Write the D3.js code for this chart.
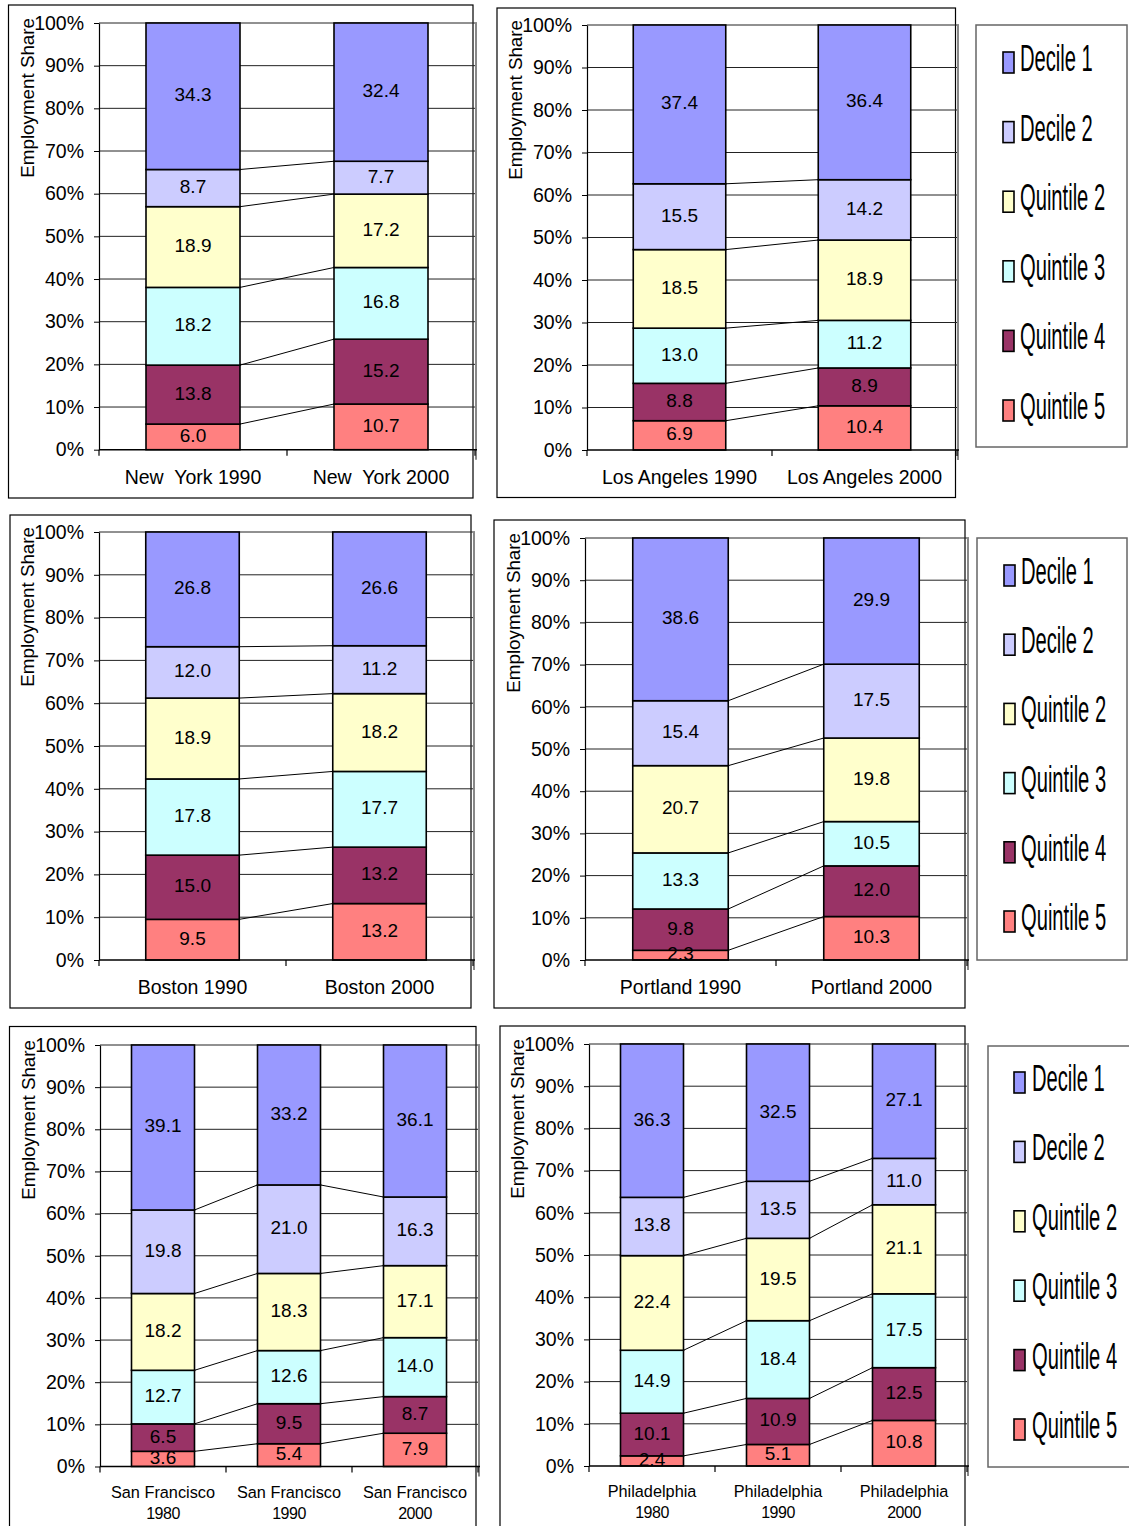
<!DOCTYPE html>
<html><head><meta charset="utf-8">
<script src="https://cdn.jsdelivr.net/npm/d3@7"></script>
<style>
body{margin:0;background:#fff}
svg{display:block}
text{font-family:"Liberation Sans",Arial,sans-serif;fill:#000}
</style>
</head><body>
<svg id="c" width="1129" height="1526"></svg>
<script>
// ---------- data ----------
const seriesNames = ["Quintile 5","Quintile 4","Quintile 3","Quintile 2","Decile 2","Decile 1"];
const seriesColors = ["#FF8080","#993366","#CCFFFF","#FFFFCC","#CCCCFF","#9999FF"];
const legendNames = ["Decile 1","Decile 2","Quintile 2","Quintile 3","Quintile 4","Quintile 5"];
const yTickValues = [0,0.1,0.2,0.3,0.4,0.5,0.6,0.7,0.8,0.9,1.0];
const yTitle = "Employment Share";

const nyCategories = ["New  York 1990","New  York 2000"];
const nyValues = [[6.0,13.8,18.2,18.9,8.7,34.3],[10.7,15.2,16.8,17.2,7.7,32.4]];
const laCategories = ["Los Angeles 1990","Los Angeles 2000"];
const laValues = [[6.9,8.8,13.0,18.5,15.5,37.4],[10.4,8.9,11.2,18.9,14.2,36.4]];
const bostonCategories = ["Boston 1990","Boston 2000"];
const bostonValues = [[9.5,15.0,17.8,18.9,12.0,26.8],[13.2,13.2,17.7,18.2,11.2,26.6]];
const portlandCategories = ["Portland 1990","Portland 2000"];
const portlandValues = [[2.3,9.8,13.3,20.7,15.4,38.6],[10.3,12.0,10.5,19.8,17.5,29.9]];
const sfCategories = ["San Francisco|1980","San Francisco|1990","San Francisco|2000"];
const sfValues = [[3.6,6.5,12.7,18.2,19.8,39.1],[5.4,9.5,12.6,18.3,21.0,33.2],[7.9,8.7,14.0,17.1,16.3,36.1]];
const phCategories = ["Philadelphia|1980","Philadelphia|1990","Philadelphia|2000"];
const phValues = [[2.4,10.1,14.9,22.4,13.8,36.3],[5.1,10.9,18.4,19.5,13.5,32.5],[10.8,12.5,17.5,21.1,11.0,27.1]];

// ---------- layout ----------
const svg = d3.select("#c");
svg.append("rect").attr("width",1129).attr("height",1526).attr("fill","#fff");

function drawPanel(cats, vals, L){
  const g = svg.append("g");
  g.append("rect").attr("x",L.frame[0]).attr("y",L.frame[1])
    .attr("width",L.frame[2]-L.frame[0]).attr("height",L.frame[3]-L.frame[1])
    .attr("fill","none").attr("stroke","#000").attr("stroke-width",1.2);

  const x = d3.scaleBand().domain(cats).range([L.axisX,L.right]).paddingInner(0.5).paddingOuter(0.25);
  const y = d3.scaleLinear().domain([0,1]).range([L.bottom,L.top]);
  const bw = x.bandwidth();
  const rows = cats.map((c,i)=>{const o={cat:c}; seriesNames.forEach((s,j)=>o[s]=vals[i][j]); return o;});
  const stack = d3.stack().keys(seriesNames).offset(d3.stackOffsetExpand)(rows);

  // gridlines
  g.append("g").selectAll("line").data(yTickValues.filter(v=>v>0)).join("line")
    .attr("x1",L.axisX).attr("x2",L.right+2).attr("y1",d=>y(d)).attr("y2",d=>y(d))
    .attr("stroke","#222").attr("stroke-width",1);
  // right plot edge
  g.append("line").attr("x1",L.right+1).attr("x2",L.right+1).attr("y1",y(1)).attr("y2",y(0)+10)
    .attr("stroke","#888").attr("stroke-width",2);

  // series lines
  const sl = [];
  for(let k=0;k<seriesNames.length-1;k++){
    for(let i=0;i<cats.length-1;i++){
      sl.push({x1:x(cats[i])+bw, y1:y(stack[k][i][1]), x2:x(cats[i+1]), y2:y(stack[k][i+1][1])});
    }
  }
  g.append("g").selectAll("line").data(sl).join("line")
    .attr("x1",d=>d.x1).attr("y1",d=>d.y1).attr("x2",d=>d.x2).attr("y2",d=>d.y2)
    .attr("stroke","#000").attr("stroke-width",1);

  // bars
  stack.forEach((layer,k)=>{
    g.append("g").selectAll("rect").data(layer).join("rect")
      .attr("x",d=>x(d.data.cat)).attr("width",bw)
      .attr("y",d=>y(d[1])).attr("height",d=>y(d[0])-y(d[1]))
      .attr("fill",seriesColors[k]).attr("stroke","#000").attr("stroke-width",1.6);
  });
  // labels
  stack.forEach((layer,k)=>{
    g.append("g").selectAll("text").data(layer).join("text")
      .attr("x",d=>x(d.data.cat)+bw/2).attr("y",d=>(y(d[0])+y(d[1]))/2-1.5)
      .attr("text-anchor","middle").attr("dominant-baseline","central")
      .attr("font-size",19)
      .text((d,i)=>d3.format(".1f")(vals[i][k]));
  });

  // y axis
  const ya = g.append("g").attr("transform",`translate(${L.axisX},0)`)
    .call(d3.axisLeft(y).tickValues(yTickValues).tickFormat(d3.format(".0%")).tickSize(5).tickSizeOuter(0).tickPadding(10));
  ya.select(".domain").attr("stroke","#000").attr("stroke-width",1.2);
  ya.selectAll(".tick line").attr("stroke","#000");
  ya.selectAll(".tick text").attr("font-size",19.5).attr("fill","#000").attr("font-family",'"Liberation Sans",Arial,sans-serif');

  // x axis
  g.append("line").attr("x1",L.axisX).attr("x2",L.right+2).attr("y1",L.bottom).attr("y2",L.bottom)
    .attr("stroke","#000").attr("stroke-width",1.5);
  const n = cats.length, step = (L.right-L.axisX)/n;
  g.append("g").selectAll("line").data(d3.range(n+1)).join("line")
    .attr("x1",k=>L.axisX+k*step).attr("x2",k=>L.axisX+k*step)
    .attr("y1",L.bottom).attr("y2",L.bottom+6).attr("stroke","#000").attr("stroke-width",1.2);

  // category labels
  cats.forEach(c=>{
    const parts = c.split("|");
    const cx = x(c)+bw/2;
    if(parts.length===1){
      g.append("text").attr("x",cx).attr("y",L.bottom+34).attr("text-anchor","middle")
        .attr("font-size",19.5).style("white-space","pre").text(parts[0]);
    } else {
      g.append("text").attr("x",cx).attr("y",L.bottom+31).attr("text-anchor","middle")
        .attr("font-size",16.3).text(parts[0]);
      g.append("text").attr("x",cx).attr("y",L.bottom+52).attr("text-anchor","middle")
        .attr("font-size",16).attr("letter-spacing",-0.5).text(parts[1]);
    }
  });

  // y title
  g.append("text").attr("transform",`translate(${L.axisX-65},${L.top-5}) rotate(-90)`)
    .attr("text-anchor","end").attr("font-size",18.8).text(yTitle);
}

function drawLegend(L){
  const g = svg.append("g");
  g.append("rect").attr("x",L.box[0]).attr("y",L.box[1]).attr("width",L.box[2]-L.box[0]).attr("height",L.box[3]-L.box[1])
    .attr("fill","#fff").attr("stroke","#666").attr("stroke-width",1.5);
  legendNames.forEach((name,i)=>{
    const b = L.base + i*L.gap;
    const k = seriesNames.indexOf(name);
    g.append("rect").attr("x",L.sx).attr("y",b-19).attr("width",11).attr("height",21)
      .attr("fill",seriesColors[k]).attr("stroke","#000").attr("stroke-width",1.6);
    g.append("text").attr("transform",`translate(${L.tx},${b}) scale(0.56,1)`)
      .attr("font-size",36).text(name);
  });
}

drawPanel(nyCategories, nyValues, {frame:[8.5,5,473,498], axisX:99, right:475, top:23, bottom:449.7});
drawPanel(laCategories, laValues, {frame:[497,8,955.5,497.5], axisX:587, right:957, top:25, bottom:450});
drawPanel(bostonCategories, bostonValues, {frame:[10,515,471,1008], axisX:99, right:473, top:532, bottom:960});
drawPanel(portlandCategories, portlandValues, {frame:[494,520,965,1008], axisX:585, right:967, top:538, bottom:960});
drawPanel(sfCategories, sfValues, {frame:[9.5,1026.5,476,1530], axisX:100, right:478, top:1045, bottom:1466.5});
drawPanel(phCategories, phValues, {frame:[500,1026,965,1530], axisX:589, right:967, top:1044, bottom:1466});

drawLegend({box:[976,25,1127,447], sx:1003, tx:1020, base:71, gap:69.6});
drawLegend({box:[977,538,1127,960], sx:1004, tx:1021, base:584, gap:69.2});
drawLegend({box:[988,1046,1135,1467], sx:1014, tx:1032, base:1091, gap:69.4});
</script>
</body></html>
